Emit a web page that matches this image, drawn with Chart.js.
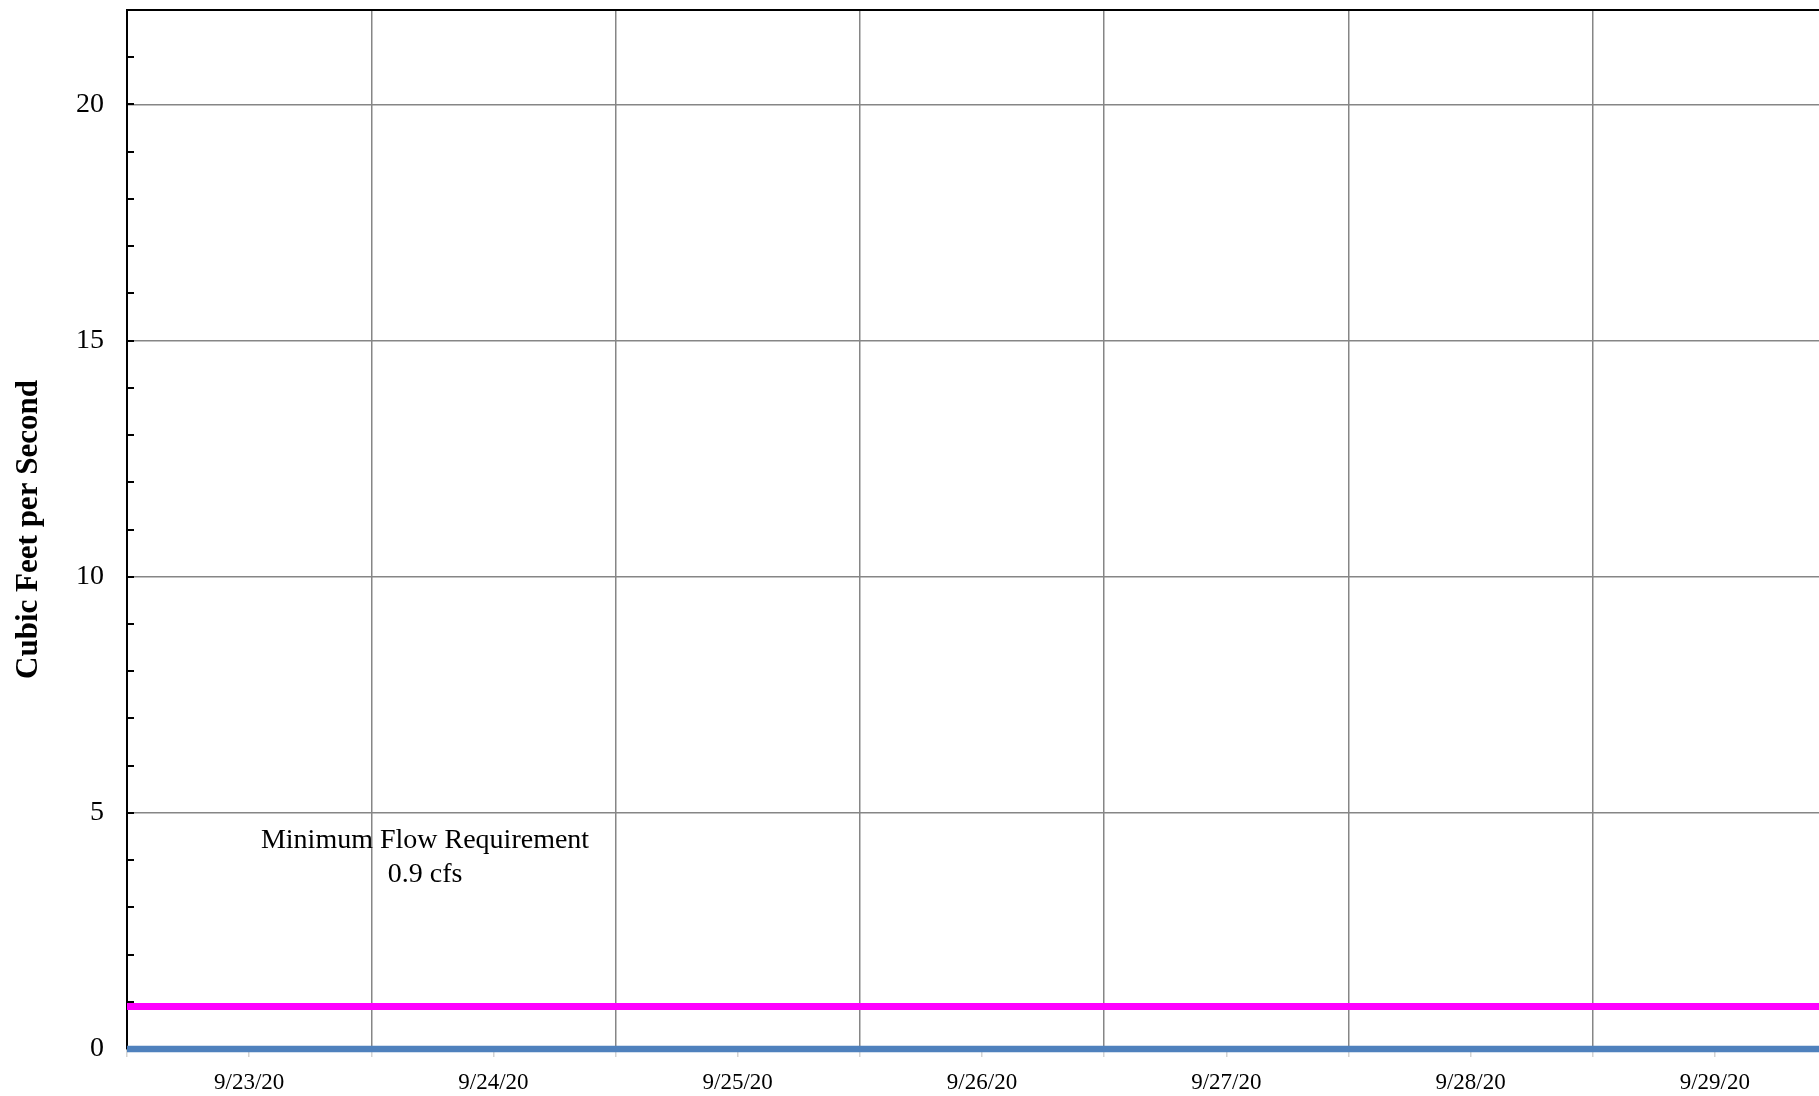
<!DOCTYPE html>
<html><head><meta charset="utf-8">
<script src="https://cdn.jsdelivr.net/npm/chart.js@4"></script>
<style>
html,body{margin:0;padding:0;background:#fff;overflow:hidden;width:1819px;height:1096px}
#wrap{width:1819px;height:1096px;overflow:hidden;position:relative;background:#fff}
canvas{display:block}
</style></head><body>
<div id="wrap"><canvas id="c" width="1837" height="1096"></canvas></div>
<script>
// ---- data ----
const dayLabels = ['9/23/20','9/24/20','9/25/20','9/26/20','9/27/20','9/28/20','9/29/20'];
const flowCfs = [0, 0, 0, 0, 0, 0, 0];
const minFlowReqCfs = [0.9, 0.9, 0.9, 0.9, 0.9, 0.9, 0.9];
const yMajorTicks = [0, 5, 10, 15, 20];
const yAxisTitle = 'Cubic Feet per Second';
const annotationText = ['Minimum Flow Requirement', '0.9 cfs'];

// each daily value spans its whole day on the date axis
const toSteps = arr => arr.flatMap((v, i) => [{x: i, y: v}, {x: i + 1, y: v}]);

const FONT = "'Liberation Serif', 'Times New Roman', serif";

const minorTicksPlugin = {
  id: 'minorTicks',
  afterDraw(chart) {
    const y = chart.scales.y, ctx = chart.ctx, left = chart.chartArea.left;
    ctx.save();
    ctx.strokeStyle = '#000';
    ctx.lineWidth = 2;
    y.ticks.forEach(t => {
      if (t.value <= 0 || t.value >= 22) return;
      const py = Math.round(y.getPixelForValue(t.value));
      ctx.beginPath();
      ctx.moveTo(left, py);
      ctx.lineTo(left + 7, py);
      ctx.stroke();
    });
    ctx.restore();
  }
};

const annotationPlugin = {
  id: 'minFlowNote',
  afterDraw(chart) {
    const {x, y} = chart.scales, ctx = chart.ctx;
    const cx = x.getPixelForValue(1.22);
    const cy = y.getPixelForValue(4.05);
    ctx.save();
    ctx.fillStyle = '#000';
    ctx.font = "28px " + FONT;
    ctx.textAlign = 'center';
    ctx.textBaseline = 'middle';
    ctx.fillText(annotationText[0], cx, cy - 17);
    ctx.fillText(annotationText[1], cx, cy + 17);
    ctx.restore();
  }
};

new Chart(document.getElementById('c'), {
  type: 'line',
  data: {
    datasets: [
      {
        label: 'Flow',
        data: toSteps(flowCfs),
        borderColor: '#4F81BD',
        borderWidth: 6.5,
        pointRadius: 0,
        fill: false,
        clip: false,
        order: 2
      },
      {
        label: 'Minimum Flow Requirement',
        data: toSteps(minFlowReqCfs),
        borderColor: '#FF00FF',
        borderWidth: 7,
        pointRadius: 0,
        fill: false,
        clip: false,
        order: 1
      }
    ]
  },
  options: {
    responsive: false,
    animation: false,
    devicePixelRatio: 1,
    layout: {padding: {top: 10, left: 0, right: 0, bottom: 0}},
    plugins: {legend: {display: false}, tooltip: {enabled: false}},
    scales: {
      x: {
        type: 'linear',
        min: 0,
        max: dayLabels.length,
        afterBuildTicks(scale) {
          const t = [];
          for (let k = 0; k <= dayLabels.length * 2; k++) t.push({value: k / 2});
          scale.ticks = t;
        },
        afterFit(scale) {
          scale.height = 47;
          scale.paddingLeft = 0; scale.paddingRight = 0;
          scale.paddingTop = 0; scale.paddingBottom = 0;
        },
        ticks: {
          autoSkip: false,
          maxRotation: 0,
          minRotation: 0,
          padding: 12,
          color: '#000',
          font: {family: FONT, size: 23},
          callback(v) {
            return (v % 1 === 0.5) ? dayLabels[Math.floor(v)] : '';
          }
        },
        grid: {
          color: ctx => {
            const v = ctx.tick ? ctx.tick.value : 0;
            return (v % 1 === 0 && v > 0) ? '#868686' : 'rgba(0,0,0,0)';
          },
          lineWidth: 1.5,
          drawTicks: true,
          tickLength: 8,
          tickColor: '#d4d4d4',
          tickWidth: 1.5
        },
        border: {display: true, color: '#868686', width: 1}
      },
      y: {
        min: 0,
        max: 22,
        afterFit(scale) {
          scale.width = 127;
          scale.paddingTop = 0; scale.paddingBottom = 0;
          scale.paddingLeft = 0; scale.paddingRight = 0;
        },
        ticks: {
          stepSize: 1,
          autoSkip: false,
          padding: 23,
          color: '#000',
          font: {family: FONT, size: 28},
          callback(v) { return yMajorTicks.includes(v) ? String(v) : ''; }
        },
        grid: {
          color: ctx => {
            const v = ctx.tick ? ctx.tick.value : 0;
            if (v === 22) return '#000';
            return yMajorTicks.includes(v) ? '#868686' : 'rgba(0,0,0,0)';
          },
          lineWidth: ctx => (ctx.tick && ctx.tick.value === 22) ? 2 : 1.5,
          drawTicks: false
        },
        border: {display: true, color: '#000', width: 2},
        title: {
          display: true,
          text: yAxisTitle,
          color: '#000',
          font: {family: FONT, size: 31, weight: 'bold'},
          padding: {top: 10, bottom: 0}
        }
      }
    }
  },
  plugins: [minorTicksPlugin, annotationPlugin]
});
</script>
</body></html>
